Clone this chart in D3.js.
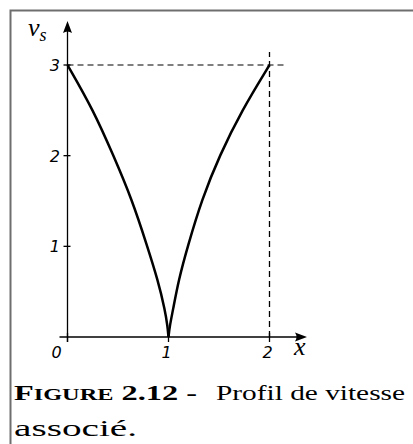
<!DOCTYPE html>
<html>
<head>
<meta charset="utf-8">
<script src="https://cdn.jsdelivr.net/npm/d3@7"></script>
<style>
  body { margin: 0; background: #fff; }
  svg { display: block; }
</style>
</head>
<body>
<svg id="chart" width="413" height="444"></svg>
<script>
// velocity profile, one array per branch
var leftX  = [0, 0.257, 0.455, 0.637, 0.79, 0.894, 0.967, 0.99, 1];
var leftV  = [3, 2.5, 2, 1.52, 1, 0.63, 0.29, 0.12, 0];
var rightX = [1, 1.012, 1.043, 1.10, 1.19, 1.33, 1.505, 1.726, 2];
var rightV = [0, 0.12, 0.29, 0.63, 1, 1.52, 2, 2.5, 3];

var xTicks = [0, 1, 2];
var yTicks = [1, 2, 3];
var xTickLabels = ['0', '1', '2'];
var yTickLabels = ['1', '2', '3'];

var serif = "'Liberation Serif', 'Times New Roman', 'DejaVu Serif', serif";

var svg = d3.select('#chart');

var x = d3.scaleLinear()
	.domain([0, 2])
	.range([67.5, 269.5]);

var y = d3.scaleLinear()
	.domain([0, 3])
	.range([337, 65]);

// frame
svg.append('path')
	.attr('d', 'M10.5,444 L10.5,10.5 L413,10.5')
	.attr('fill', 'none')
	.attr('stroke', '#6e6e6e')
	.attr('stroke-width', 2);

// dashed guides
svg.append('line')
	.attr('x1', x(0)).attr('x2', x(2) + 17)
	.attr('y1', y(3)).attr('y2', y(3))
	.attr('stroke', '#000').attr('stroke-width', 1.2)
	.attr('stroke-dasharray', '6,4');

svg.append('line')
	.attr('x1', x(2)).attr('x2', x(2))
	.attr('y1', y(0)).attr('y2', y(3) - 13)
	.attr('stroke', '#000').attr('stroke-width', 1.3)
	.attr('stroke-dasharray', '6,4');

// axes
svg.append('line')
	.attr('x1', x(0) - 8).attr('x2', 303)
	.attr('y1', y(0)).attr('y2', y(0))
	.attr('stroke', '#000').attr('stroke-width', 1.3);

svg.append('line')
	.attr('x1', x(0)).attr('x2', x(0))
	.attr('y1', y(0) + 5).attr('y2', 25)
	.attr('stroke', '#000').attr('stroke-width', 1.3);

// arrow heads
svg.append('path')
	.attr('d', 'M307,' + y(0) + ' L295,' + (y(0) - 4.5) + ' Q298,' + y(0) + ' 295,' + (y(0) + 4.5) + ' Z')
	.attr('fill', '#000');

svg.append('path')
	.attr('d', 'M' + x(0) + ',21 L' + (x(0) - 4.5) + ',33 Q' + x(0) + ',30 ' + (x(0) + 4.5) + ',33 Z')
	.attr('fill', '#000');

// ticks
svg.selectAll('.xtick')
	.data(xTicks)
	.enter().append('line')
	.attr('x1', function(d) { return x(d); })
	.attr('x2', function(d) { return x(d); })
	.attr('y1', y(0) - 4)
	.attr('y2', y(0) + 5)
	.attr('stroke', '#000').attr('stroke-width', 1.3);

svg.selectAll('.ytick')
	.data(yTicks)
	.enter().append('line')
	.attr('x1', x(0) - 4)
	.attr('x2', x(0) + 3)
	.attr('y1', function(d) { return y(d); })
	.attr('y2', function(d) { return y(d); })
	.attr('stroke', '#000').attr('stroke-width', 1.3);

// tick labels
svg.selectAll('.xlabel')
	.data(xTicks)
	.enter().append('text')
	.attr('x', function(d) { return d === 0 ? x(d) - 11 : x(d) - 2; })
	.attr('y', 358)
	.attr('text-anchor', 'middle')
	.attr('font-family', 'DejaVu Sans')
	.attr('font-style', 'italic')
	.attr('font-size', 16)
	.text(function(d, i) { return xTickLabels[i]; });

svg.selectAll('.ylabel')
	.data(yTicks)
	.enter().append('text')
	.attr('x', 60)
	.attr('y', function(d) { return y(d) + 6; })
	.attr('text-anchor', 'end')
	.attr('font-family', 'DejaVu Sans')
	.attr('font-style', 'italic')
	.attr('font-size', 16)
	.text(function(d, i) { return yTickLabels[i]; });

// curve
var line = d3.line()
	.x(function(d) { return x(d[0]); })
	.y(function(d) { return y(d[1]); })
	.curve(d3.curveBasis);

var leftPts = leftX.map(function(d, i) { return [d, leftV[i]]; });
var rightPts = rightX.map(function(d, i) { return [d, rightV[i]]; });

[leftPts, rightPts].forEach(function(pts) {
	svg.append('path')
		.attr('d', line(pts))
		.attr('fill', 'none')
		.attr('stroke', '#000')
		.attr('stroke-width', 2.5)
		.attr('stroke-linejoin', 'round');
});

// axis names
var vs = svg.append('text')
	.attr('x', 28).attr('y', 36)
	.attr('font-family', serif)
	.attr('font-style', 'italic')
	.attr('font-size', 26);
vs.append('tspan').text('v');
vs.append('tspan').attr('font-size', 18).attr('dy', 5).text('s');

svg.append('text')
	.attr('x', 294).attr('y', 355)
	.attr('font-family', serif)
	.attr('font-style', 'italic')
	.attr('font-size', 26)
	.text('x');

// caption
var cap = svg.append('text')
	.attr('x', 14).attr('y', 400)
	.attr('font-family', serif)
	.attr('font-weight', 'bold')
	.attr('font-size', 22)
	.attr('textLength', 183)
	.attr('lengthAdjust', 'spacingAndGlyphs');
cap.append('tspan').text('F');
cap.append('tspan').attr('font-size', 16.5).text('IGURE');
cap.append('tspan').text(' 2.12 -');

svg.append('text')
	.attr('x', 216).attr('y', 400)
	.attr('font-family', serif)
	.attr('font-size', 22)
	.attr('textLength', 189)
	.attr('lengthAdjust', 'spacingAndGlyphs')
	.text('Profil de vitesse');

svg.append('text')
	.attr('x', 14).attr('y', 436)
	.attr('font-family', serif)
	.attr('font-weight', 'normal')
	.attr('font-size', 24)
	.attr('textLength', 123)
	.attr('lengthAdjust', 'spacingAndGlyphs')
	.text('associé.');
</script>
</body>
</html>
